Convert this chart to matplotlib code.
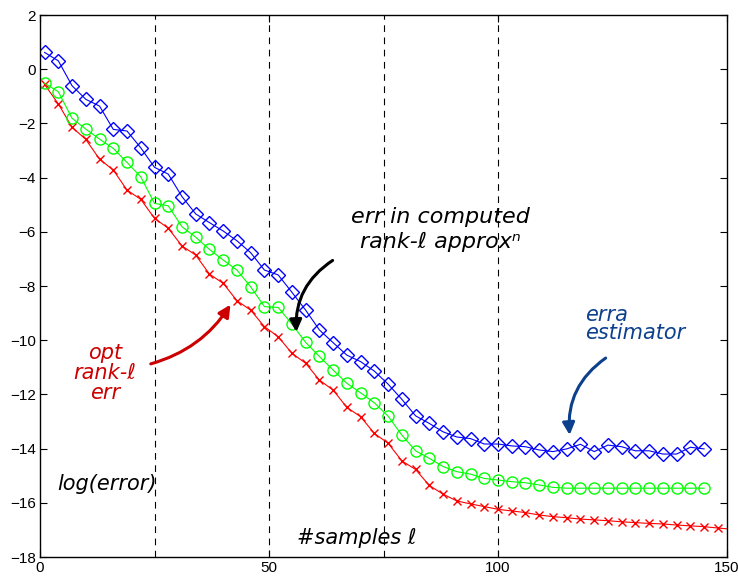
import numpy as np
import matplotlib
matplotlib.use("Agg")
import matplotlib.pyplot as plt

# sample counts where the markers sit (every 3rd sample)
x_est = np.arange(1, 146, 3)
x_opt = list(range(1, 149, 3)) + [150]

# error estimator (blue diamonds)
err_estimator = [0.62, 0.31, -0.61, -1.11, -1.36, -2.22, -2.28, -2.90, -3.62, -3.87,
                 -4.70, -5.34, -5.66, -5.97, -6.33, -6.77, -7.41, -7.59, -8.23, -8.89,
                 -9.62, -10.09, -10.55, -10.79, -11.14, -11.62, -12.18, -12.79, -13.07, -13.38,
                 -13.57, -13.63, -13.83, -13.83, -13.90, -13.93, -14.05, -14.11, -14.01, -13.84,
                 -14.11, -13.87, -13.93, -14.08, -14.08, -14.20, -14.20, -13.95, -14.01]

# error in computed rank-l approx (green circles)
err_computed = [-0.52, -0.83, -1.81, -2.21, -2.58, -2.92, -3.44, -3.97, -4.95, -5.04,
                -5.81, -6.20, -6.65, -7.04, -7.41, -8.03, -8.76, -8.79, -9.40, -10.08,
                -10.60, -11.10, -11.59, -11.94, -12.31, -12.80, -13.50, -14.08, -14.36, -14.66,
                -14.85, -14.94, -15.10, -15.16, -15.22, -15.26, -15.34, -15.43, -15.46, -15.46,
                -15.46, -15.46, -15.46, -15.46, -15.46, -15.46, -15.46, -15.46, -15.46]

# optimal rank-l error (red crosses)
err_optimal = [-0.56, -1.28, -2.14, -2.59, -3.32, -3.72, -4.46, -4.80, -5.50, -5.87,
               -6.52, -6.86, -7.56, -7.90, -8.54, -8.89, -9.50, -9.87, -10.48, -10.85,
               -11.47, -11.84, -12.48, -12.82, -13.44, -13.80, -14.45, -14.77, -15.36, -15.68,
               -15.93, -16.04, -16.14, -16.24, -16.30, -16.36, -16.45, -16.51, -16.55, -16.60,
               -16.63, -16.66, -16.70, -16.73, -16.76, -16.78, -16.82, -16.85, -16.88, -16.93,
               -16.96]

vlines = [25, 50, 75, 100]
xticks = [0, 50, 100, 150]
yticks = list(range(-18, 3, 2))

plt.rcParams['font.family'] = ['Liberation Sans', 'DejaVu Sans']

fig = plt.figure(figsize=(7.38, 5.78), dpi=100)
ax = fig.add_axes([0.0542, 0.0363, 0.9309, 0.9377])

for v in vlines:
    ax.axvline(v, color='black', linestyle=(0, (6, 5)), linewidth=0.8)

ax.plot(x_opt, err_optimal, color='red', linewidth=0.8, marker='x',
        markersize=6, markeredgewidth=1.0, markevery=slice(0, len(x_opt) - 1))
ax.plot(x_est, err_computed, color=(0, 1, 0), linewidth=0.8, marker='o',
        markersize=8, markerfacecolor='none', markeredgewidth=1.0)
ax.plot(x_est, err_estimator, color='blue', linewidth=0.8, marker='D',
        markersize=7, markerfacecolor='none', markeredgewidth=1.0)

ax.set_xlim(0, 150)
ax.set_ylim(-18, 2)
ax.set_xticks(xticks)
ax.set_yticks(yticks)
ax.set_yticklabels([str(t).replace('-', '\u2212') for t in yticks])
ax.tick_params(direction='in', top=True, right=True, labelsize=11, length=5, pad=3)
for s in ax.spines.values():
    s.set_linewidth(1.0)

# handwritten notes
hand = dict(style='italic', ha='center', va='center', family=['DejaVu Sans'])
ax.text(87.5, -5.9, "err in computed\nrank-\u2113 approx\u207f", color='black',
        fontsize=16, linespacing=1.3, **hand)
ax.annotate("", xy=(56.0, -9.8), xytext=(64.4, -7.0),
            arrowprops=dict(arrowstyle='-|>', color='black', lw=2.2,
                            connectionstyle='arc3,rad=0.3', mutation_scale=18))

ax.text(14.2, -11.2, "opt\nrank-\u2113\nerr", color=(0.8, 0, 0),
        fontsize=15, linespacing=1.0, **hand)
ax.annotate("", xy=(41.9, -8.6), xytext=(23.6, -10.9),
            arrowprops=dict(arrowstyle='-|>', color=(0.8, 0, 0), lw=2.2,
                            connectionstyle='arc3,rad=0.2', mutation_scale=18))

ax.text(130, -9.4, "erra\nestimator", color=(0.05, 0.25, 0.55),
        fontsize=15, linespacing=0.9, multialignment='left', **hand)
ax.annotate("", xy=(115.7, -13.6), xytext=(124, -10.6),
            arrowprops=dict(arrowstyle='-|>', color=(0.05, 0.25, 0.55), lw=2.2,
                            connectionstyle='arc3,rad=0.3', mutation_scale=18))

ax.text(14.6, -15.3, "log(error)", color='black', fontsize=15, **hand)
ax.text(69.2, -17.3, "#samples \u2113", color='black', fontsize=15, **hand)

fig.savefig("out.png", dpi=100)
